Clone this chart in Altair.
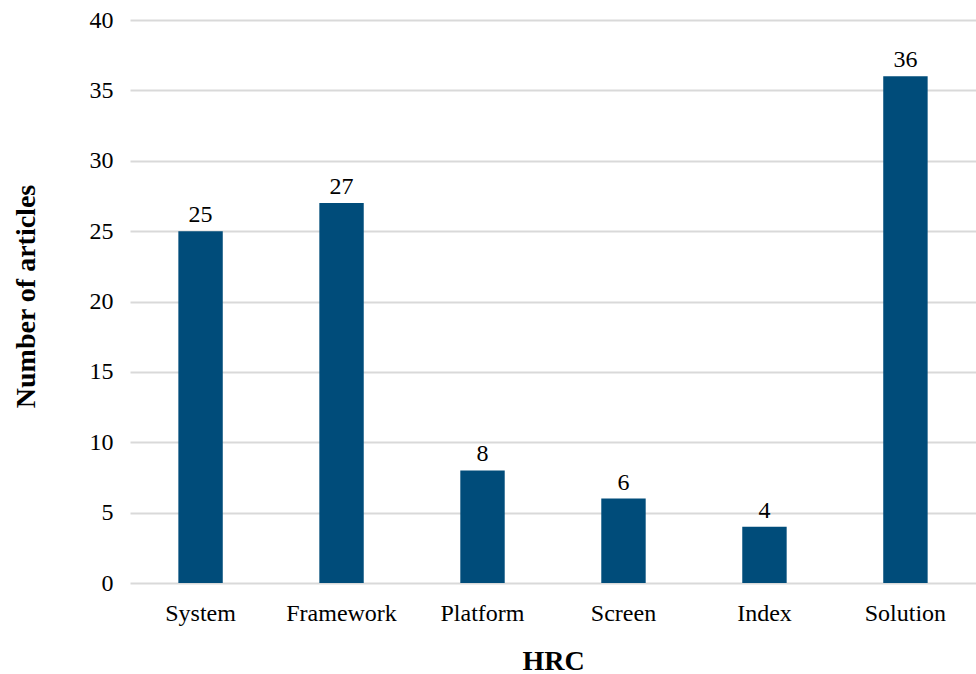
import altair as alt
import pandas as pd

categories = ["System", "Framework", "Platform", "Screen", "Index", "Solution"]
counts = [25, 27, 8, 6, 4, 36]

df = pd.DataFrame({"HRC": categories, "Number of articles": counts})

FONT = "Liberation Serif"
BAR = "#004C7A"

base = alt.Chart(df).encode(
    x=alt.X(
        "HRC:N",
        sort=categories,
        scale=alt.Scale(paddingInner=0.685, paddingOuter=0.343),
        axis=alt.Axis(
            title="HRC", labelAngle=0, labelFont=FONT, labelFontSize=24,
            labelColor="#000000", labelPadding=18, titleFont=FONT,
            titleFontSize=28, titleFontWeight="bold", titleColor="#000000",
            titlePadding=22, domain=False, ticks=False, grid=False,
        ),
    ),
    y=alt.Y(
        "Number of articles:Q",
        scale=alt.Scale(domain=[0, 40]),
        axis=alt.Axis(
            values=[0, 5, 10, 15, 20, 25, 30, 35, 40], title="Number of articles",
            labelFont=FONT, labelFontSize=24, labelColor="#000000",
            labelPadding=17, titleFont=FONT, titleFontSize=28,
            titleFontWeight="bold", titleColor="#000000", titlePadding=49,
            titleY=276, domain=False, ticks=False, gridColor="#D9D9D9", gridWidth=2,
        ),
    ),
)

bars = base.mark_bar(color=BAR)
labels = base.mark_text(font=FONT, fontSize=24, dy=-16, color="#000000").encode(
    text="Number of articles:Q"
)

chart = (
    (bars + labels)
    .properties(
        width=846, height=563,
        autosize=alt.AutoSizeParams(type="none"),
        padding={"left": 130, "top": 20, "right": 0, "bottom": 91},
        view=alt.ViewBackground(stroke="transparent", strokeWidth=0),
    )
    .configure_axis(domain=False, ticks=False)
    .configure_axisBand(grid=False)
    .configure_view(stroke=None, strokeWidth=0)
    .configure(background="white")
)

chart.save("out.html", embed_options={"renderer": "svg", "actions": False})
